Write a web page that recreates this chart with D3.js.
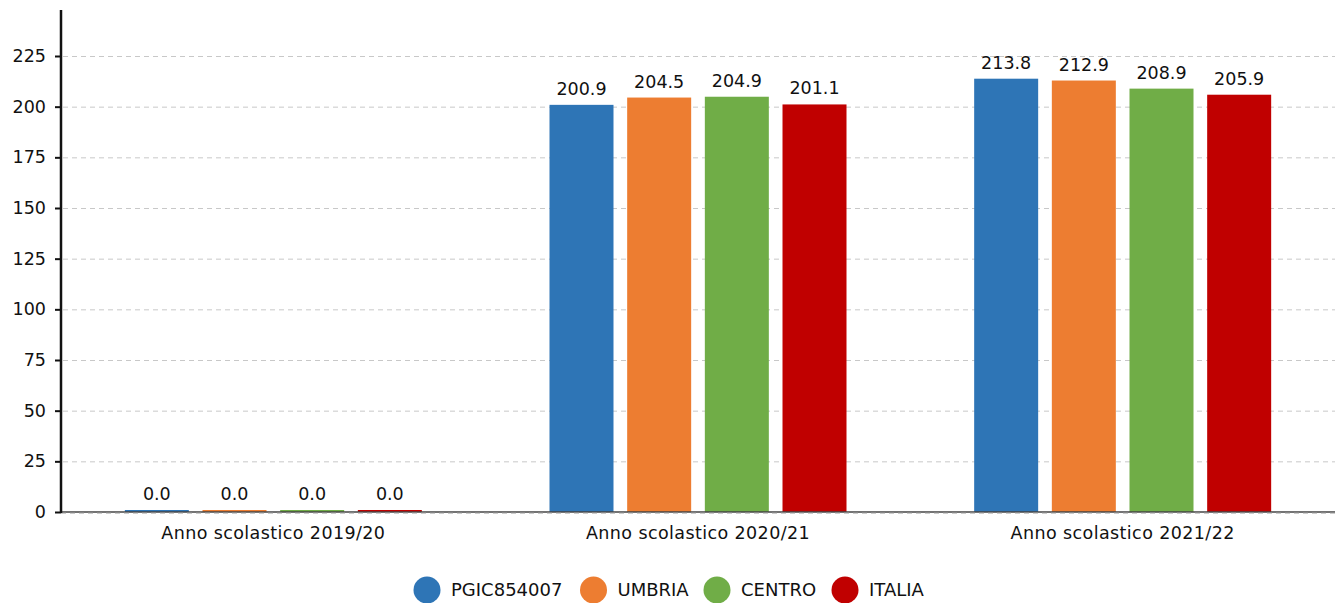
<!DOCTYPE html>
<html><head><meta charset="utf-8">
<script src="https://cdn.jsdelivr.net/npm/d3@7"></script>
<style>body{margin:0;background:#fff}svg{display:block}text{font-family:"DejaVu Sans",sans-serif;fill:#111}</style>
</head><body><svg id="c" width="1335" height="603"></svg>
<script>
const categories = ["Anno scolastico 2019/20","Anno scolastico 2020/21","Anno scolastico 2021/22"];
const seriesNames = ["PGIC854007","UMBRIA","CENTRO","ITALIA"];
const seriesColors = ["#2e75b6","#ed7d31","#70ad47","#c00000"];
const PGIC854007 = [0.0,200.9,213.8];
const UMBRIA = [0.0,204.5,212.9];
const CENTRO = [0.0,204.9,208.9];
const ITALIA = [0.0,201.1,205.9];
const yTicks = [0,25,50,75,100,125,150,175,200,225];
const values = [PGIC854007,UMBRIA,CENTRO,ITALIA];

const svg = d3.select("#c");
const left = 61, right = 1335;
const y = d3.scaleLinear().domain([0,225]).range([512,56]);
const x0 = d3.scaleBand().domain(categories).range([left,right]).paddingInner(0).paddingOuter(0);
const innerW = 297;
const x1 = d3.scaleBand().domain(seriesNames).range([0,innerW]).paddingInner(0.176).paddingOuter(0);
const groupOffset = (x0.bandwidth()-innerW)/2;

// grid
svg.append("g").selectAll("line").data(yTicks.filter(t=>t>0)).join("line")
  .attr("x1",left+2).attr("x2",right).attr("y1",d=>y(d)+0.5).attr("y2",d=>y(d)+0.5)
  .attr("stroke","#c8c8c8").attr("stroke-dasharray","5,4").attr("stroke-width",1);

// bars
const g = svg.append("g");
categories.forEach((c,ci)=>{
  seriesNames.forEach((s,si)=>{
    const v = values[si][ci];
    const bx = x0(c)+groupOffset+x1(s);
    const top = Math.min(y(v), 510);
    g.append("rect").attr("x",bx).attr("y",top).attr("width",x1.bandwidth()).attr("height",512-top)
      .attr("fill",seriesColors[si]);
    g.append("text").attr("x",bx+x1.bandwidth()/2).attr("y",top-10).attr("text-anchor","middle")
      .attr("font-size",17.5).text(v.toFixed(1));
  });
});

// baseline
svg.append("line").attr("x1",left).attr("x2",right).attr("y1",512).attr("y2",512).attr("stroke","#444").attr("stroke-width",1.5);
svg.append("line").attr("x1",left).attr("x2",right).attr("y1",513).attr("y2",513).attr("stroke","#999").attr("stroke-dasharray","5,4").attr("stroke-width",1);

// y axis
const ya = svg.append("g").attr("transform",`translate(${left},0)`)
  .call(d3.axisLeft(y).tickValues(yTicks).tickSize(6).tickPadding(9));
ya.select(".domain").remove();
ya.selectAll(".tick line").attr("stroke","#111").attr("stroke-width",2);
ya.selectAll(".tick text").attr("font-size",17.5).attr("font-family","DejaVu Sans").attr("fill","#111");
svg.append("line").attr("x1",left).attr("x2",left).attr("y1",10).attr("y2",513).attr("stroke","#111").attr("stroke-width",2.5);

// x axis labels
const xa = svg.append("g").attr("transform","translate(0,512)")
  .call(d3.axisBottom(x0).tickSize(0).tickPadding(15));
xa.select(".domain").remove();
xa.selectAll(".tick text").attr("font-size",17.5).attr("letter-spacing",0.4).attr("font-family","DejaVu Sans").attr("fill","#111");

// legend
const legX = [427,593.5,717,845];
const leg = svg.append("g");
seriesNames.forEach((s,i)=>{
  leg.append("circle").attr("cx",legX[i]).attr("cy",590).attr("r",13.5).attr("fill",seriesColors[i]);
  leg.append("text").attr("x",legX[i]+24).attr("y",596).attr("font-size",18).text(s);
});
</script></body></html>
